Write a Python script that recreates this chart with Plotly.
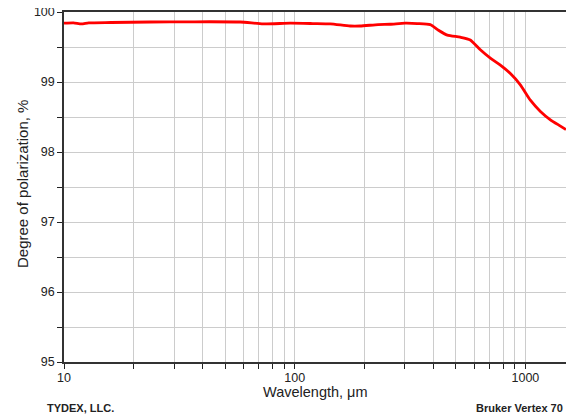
import numpy as np
import plotly.graph_objects as go

wavelength_um = [10, 11.0, 11.9, 12.8, 16, 23.6, 35, 58, 73, 95.6, 120, 142.6, 174, 192, 230, 259, 301, 340, 387, 420, 459, 522, 577, 638, 705, 779, 861, 951, 1051, 1162, 1284, 1419, 1500]
polarization_pct = [99.84, 99.845, 99.83, 99.845, 99.85, 99.857, 99.86, 99.857, 99.83, 99.84, 99.835, 99.83, 99.80, 99.80, 99.82, 99.825, 99.84, 99.835, 99.82, 99.74, 99.67, 99.64, 99.60, 99.46, 99.34, 99.24, 99.12, 98.96, 98.74, 98.58, 98.46, 98.37, 98.32]

x_tick_vals = [10, 20, 30, 40, 50, 60, 70, 80, 90, 100, 200, 300, 400, 500, 600, 700, 800, 900, 1000]
x_tick_text = ["10", "", "", "", "", "", "", "", "", "100", "", "", "", "", "", "", "", "", "1000"]
y_tick_vals = [95, 96, 97, 98, 99, 100]

# the page body adds an 8px offset; figure is sized to fit the window
W, H = 566, 407
ML, MR, MT, MB = 56, 8, 4, 53

fig = go.Figure()
fig.add_trace(go.Scatter(
    x=wavelength_um, y=polarization_pct, mode="lines",
    line=dict(color="#ff0000", width=2.8, shape="spline", smoothing=0.6),
    showlegend=False, hoverinfo="skip"))

FAM = "Liberation Sans, Arial, sans-serif"
tick_font = dict(family=FAM, size=12.5, color="#222")
xtitle_font = dict(family=FAM, size=14.5, color="#222")
ytitle_font = dict(family=FAM, size=15, color="#222")
foot_font = dict(family=FAM, size=11, color="#222")
pw = W - ML - MR
ph = H - MT - MB
fig.update_layout(
    width=W, height=H,
    margin=dict(l=ML, r=MR, t=MT, b=MB),
    paper_bgcolor="white", plot_bgcolor="white",
    font=tick_font,
    xaxis=dict(
        type="log", range=[1, np.log10(1500)],
        tickvals=x_tick_vals, ticktext=x_tick_text,
        ticks="outside", ticklen=5, tickcolor="#222", tickwidth=1,
        showgrid=True, gridcolor="#cccccc", gridwidth=1,
        showline=True, linecolor="#333", linewidth=1.5, mirror=True,
        zeroline=False, ticklabeloverflow="allow", automargin=False,
        ticklabelstandoff=-2,
        tickfont=tick_font,
    ),
    yaxis=dict(
        range=[95, 100], tickvals=y_tick_vals,
        ticks="outside", ticklen=5, tickcolor="#222", tickwidth=1,
        showgrid=True, gridcolor="#cccccc", gridwidth=1,
        minor=dict(dtick=0.5, ticks="outside", ticklen=5, tickcolor="#222",
                   showgrid=True, gridcolor="#cccccc"),
        showline=True, linecolor="#333", linewidth=1.5, mirror=True,
        zeroline=False, ticklabeloverflow="allow", automargin=False,
        tickfont=tick_font,
    ),
    annotations=[
        dict(text="Wavelength, μm", x=0.5, y=-(392 - 362) / ph,
             xref="paper", yref="paper", showarrow=False, font=xtitle_font,
             xanchor="center", yanchor="middle"),
        dict(text="Degree of polarization, %", x=(22 - 64) / pw, y=(362 - 184) / ph,
             xref="paper", yref="paper", showarrow=False, font=ytitle_font,
             textangle=-90, xanchor="center", yanchor="middle"),
        dict(text="<b>TYDEX, LLC.</b>", x=(45 - 64) / pw, y=-(408 - 362) / ph,
             xref="paper", yref="paper", showarrow=False, font=foot_font,
             xanchor="left", yanchor="middle"),
        dict(text="<b>Bruker Vertex 70</b>", x=(565 - 64) / pw, y=-(408 - 362) / ph,
             xref="paper", yref="paper", showarrow=False, font=foot_font,
             xanchor="right", yanchor="middle"),
    ],
)

fig.write_html("out.html")
